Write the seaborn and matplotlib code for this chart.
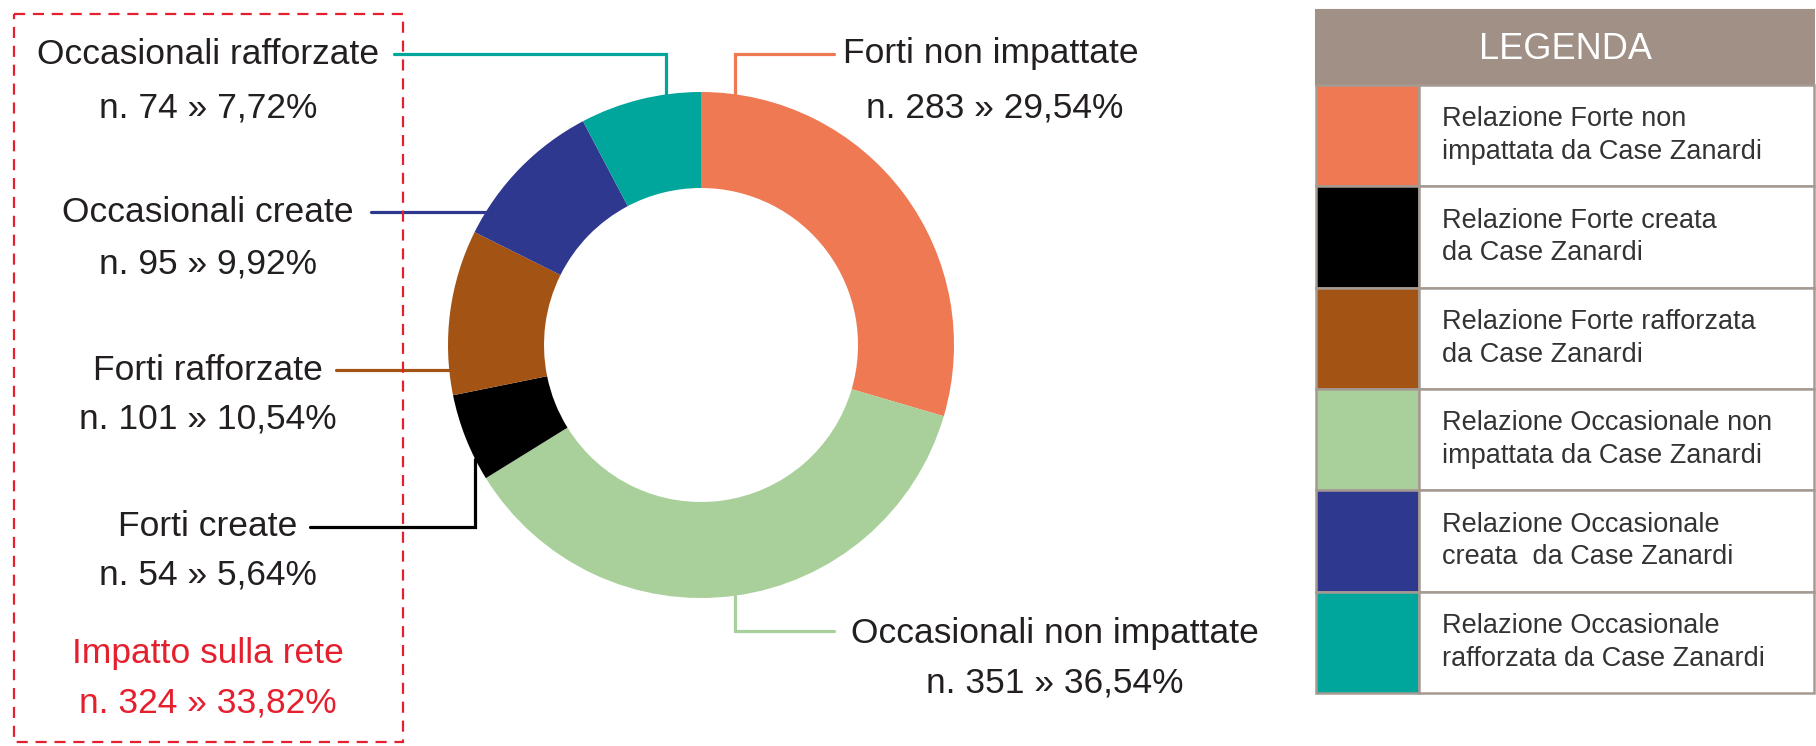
import numpy as np
import matplotlib
matplotlib.use("Agg")
import matplotlib.pyplot as plt
from matplotlib.patches import Rectangle
import seaborn as sns

# Data (clockwise from 12 o'clock)
categories = ["Forti non impattate", "Occasionali non impattate", "Forti create",
              "Forti rafforzate", "Occasionali create", "Occasionali rafforzate"]
counts = [283, 351, 54, 101, 95, 74]
pct_labels = ["29,54%", "36,54%", "5,64%", "10,54%", "9,92%", "7,72%"]
colors = ["#EF7952", "#A9D09A", "#000000", "#A35415", "#2E388E", "#00A59B"]

impact_cats = ["Forti create", "Forti rafforzate", "Occasionali create", "Occasionali rafforzate"]
impact_pct = "33,82%"

legend_title = "LEGENDA"
legend_cats = ["Forti non impattate", "Forti create", "Forti rafforzate",
               "Occasionali non impattate", "Occasionali create", "Occasionali rafforzate"]
legend_texts = ["Relazione Forte non\nimpattata da Case Zanardi",
                "Relazione Forte creata\nda Case Zanardi",
                "Relazione Forte rafforzata\nda Case Zanardi",
                "Relazione Occasionale non\nimpattata da Case Zanardi",
                "Relazione Occasionale\ncreata  da Case Zanardi",
                "Relazione Occasionale\nrafforzata da Case Zanardi"]

sns.set_theme(style="white")
plt.rcParams["font.family"] = ["Liberation Sans", "DejaVu Sans"]
palette = dict(zip(categories, sns.color_palette(colors)))

W, H = 1816, 746
fig = plt.figure(figsize=(W / 100, H / 100), dpi=100)
ax = fig.add_axes([0, 0, 1, 1])

# donut (pixel coordinates, y axis pointing down)
cx, cy, r_out, r_in = 701, 345, 253, 157
ax.pie(counts, colors=[palette[c] for c in categories], startangle=-90,
       counterclock=True, radius=r_out, center=(cx, cy),
       wedgeprops=dict(width=r_out - r_in, linewidth=0), frame=True)
ax.set_xlim(0, W)
ax.set_ylim(H, 0)
ax.set_aspect("equal")
ax.axis("off")

txt_col = "#231F20"
fs = 25.5

# label layout: name pos, value pos, leader start, elbow x (None = straight to ring)
layout = {
    "Occasionali rafforzate": ((208, 54, "center"), (208, 108), 394, 54, 666),
    "Occasionali create": ((208, 212, "center"), (208, 264), 371, 212, None),
    "Forti rafforzate": ((208, 370, "center"), (208, 419), 336, 370, None),
    "Forti create": ((208, 527, "center"), (208, 575), 310, 527, 475),
    "Forti non impattate": ((843, 54, "left"), (995, 108), 834, 54, 735),
    "Occasionali non impattate": ((851, 633, "left"), (1055, 683), 834, 631, 735),
}

for cat, n, p in zip(categories, counts, pct_labels):
    (x1, y1, ha1), (x2, y2), lx, ly, ex = layout[cat]
    ax.text(x1, y1, cat, ha=ha1, va="center", fontsize=fs, color=txt_col)
    ax.text(x2, y2, f"n. {n} » {p}", ha="center", va="center", fontsize=fs, color=txt_col)
    if ex is None:
        xr = cx - np.sqrt(r_out ** 2 - (ly - cy) ** 2)
        xs, ys = [lx, xr], [ly, ly]
    else:
        dy = np.sqrt(r_out ** 2 - (ex - cx) ** 2)
        yr = cy - dy if ly < cy else cy + dy
        xs, ys = [lx, ex, ex], [ly, ly, yr]
    ax.plot(xs, ys, color=palette[cat], lw=2.3, solid_joinstyle="miter", zorder=1)

# impact summary
red = "#E5202E"
impact_n = sum(n for c, n in zip(categories, counts) if c in impact_cats)
ax.text(208, 654, "Impatto sulla rete", ha="center", va="center", fontsize=fs, color=red)
ax.text(208, 703, f"n. {impact_n} » {impact_pct}", ha="center", va="center", fontsize=fs, color=red)
ax.add_patch(Rectangle((14, 14), 389, 728, fill=False, edgecolor=red, lw=1.6,
                       linestyle=(0, (5, 3.5))))

# legend table
lx0, lx1, sw = 1316, 1814, 1419
top, head_b = 10, 85
row_h = (693 - head_b) / len(legend_cats)
border = "#A59A92"
ax.add_patch(Rectangle((lx0, top), lx1 - lx0, head_b - top, facecolor="#A09085",
                       edgecolor="#A09085", lw=1.5))
ax.text((lx0 + lx1) / 2, (top + head_b) / 2 + 2, legend_title, ha="center", va="center",
        fontsize=26, color="white")
for i, (cat, lab) in enumerate(zip(legend_cats, legend_texts)):
    y0 = head_b + i * row_h
    ax.add_patch(Rectangle((lx0, y0), sw - lx0, row_h, facecolor=palette[cat],
                           edgecolor=border, lw=1.8))
    ax.add_patch(Rectangle((sw, y0), lx1 - sw, row_h, facecolor="white",
                           edgecolor=border, lw=1.8))
    ax.text(1442, y0 + row_h / 2, lab, ha="left", va="center", fontsize=19.5,
            color="#333333", linespacing=1.35)

fig.savefig("out.png", dpi=100)
